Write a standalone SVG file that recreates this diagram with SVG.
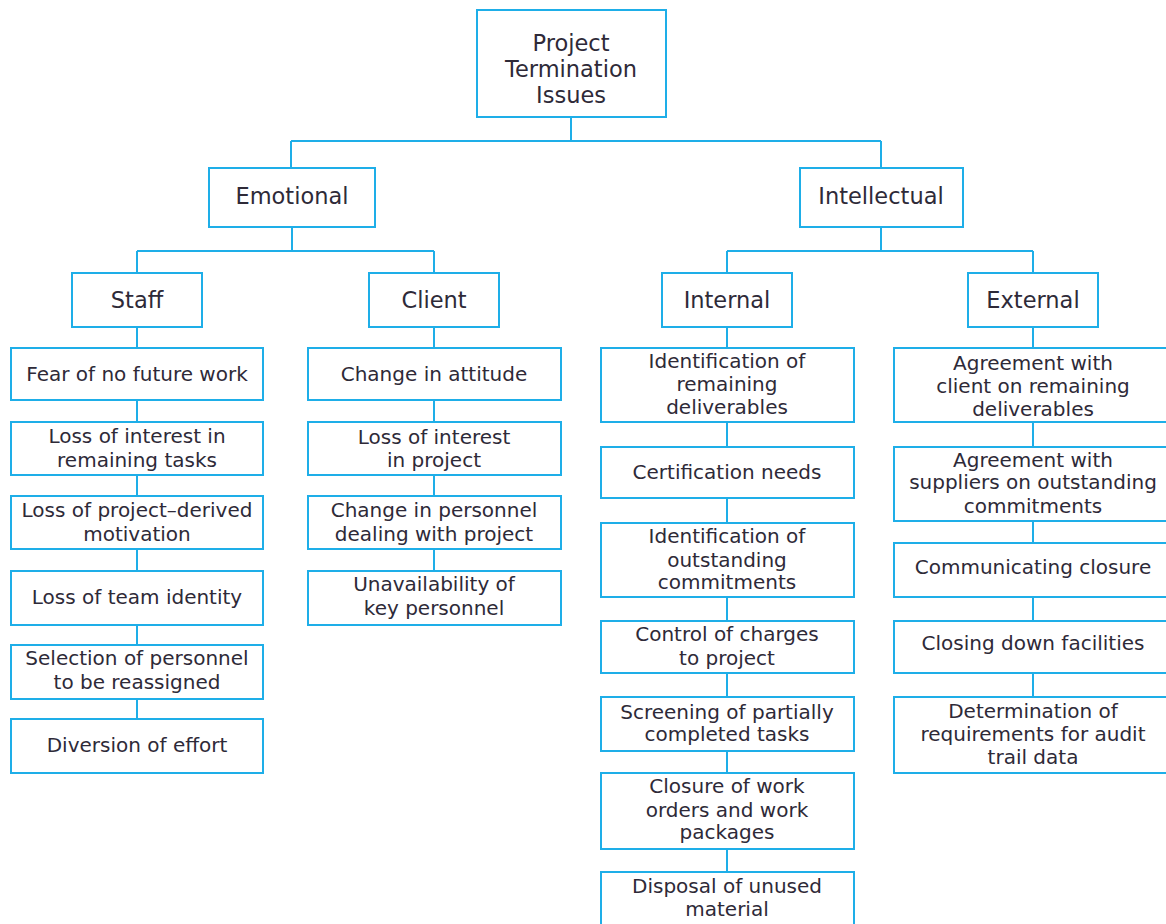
<svg xmlns="http://www.w3.org/2000/svg" width="1166" height="924" viewBox="0 0 1166 924">
<style>
.b{fill:#fff;stroke:#1eaee8;stroke-width:2}
.c{fill:none;stroke:#1eaee8;stroke-width:2}
text{font-family:"DejaVu Sans",sans-serif;fill:#2e2a38;text-anchor:middle}
.t{font-size:22.5px}
.l{font-size:20px}
</style>
<rect width="1166" height="924" fill="#fff"/>
<g id="connectors">
<path class="c" d="M571 117V141M291 141H881M291 141V168M881 141V168"/>
<path class="c" d="M292 227V251M137 251H434M137 251V273M434 251V273"/>
<path class="c" d="M881 227V251M727 251H1033M727 251V273M1033 251V273"/>
<path class="c" d="M137 327V719M434 327V571M727 327V872M1033 327V697"/>
</g>
<g id="root"><rect class="b" x="477" y="10" width="189" height="107"/>
<text class="t" x="571" y="51">Project</text><text class="t" x="571" y="77">Termination</text><text class="t" x="571" y="103">Issues</text></g>
<g id="emotional"><rect class="b" x="209" y="168" width="166" height="59"/><text class="t" x="292" y="204">Emotional</text></g>
<g id="intellectual"><rect class="b" x="800" y="168" width="163" height="59"/><text class="t" x="881" y="204">Intellectual</text></g>
<g id="staff"><rect class="b" x="72" y="273" width="130" height="54"/><text class="t" x="137" y="308">Staff</text></g>
<g id="client"><rect class="b" x="369" y="273" width="130" height="54"/><text class="t" x="434" y="308">Client</text></g>
<g id="internal"><rect class="b" x="662" y="273" width="130" height="54"/><text class="t" x="727" y="308">Internal</text></g>
<g id="external"><rect class="b" x="968" y="273" width="130" height="54"/><text class="t" x="1033" y="308">External</text></g>

<g id="s1"><rect class="b" x="11" y="348" width="252" height="52"/><text class="l" x="137" y="381">Fear of no future work</text></g>
<g id="s2"><rect class="b" x="11" y="422" width="252" height="53"/><text class="l" x="137" y="443">Loss of interest in</text><text class="l" x="137" y="467">remaining tasks</text></g>
<g id="s3"><rect class="b" x="11" y="496" width="252" height="53"/><text class="l" x="137" y="517">Loss of project–derived</text><text class="l" x="137" y="541">motivation</text></g>
<g id="s4"><rect class="b" x="11" y="571" width="252" height="54"/><text class="l" x="137" y="604">Loss of team identity</text></g>
<g id="s5"><rect class="b" x="11" y="645" width="252" height="54"/><text class="l" x="137" y="665">Selection of personnel</text><text class="l" x="137" y="689">to be reassigned</text></g>
<g id="s6"><rect class="b" x="11" y="719" width="252" height="54"/><text class="l" x="137" y="752">Diversion of effort</text></g>

<g id="c1"><rect class="b" x="308" y="348" width="253" height="52"/><text class="l" x="434" y="381">Change in attitude</text></g>
<g id="c2"><rect class="b" x="308" y="422" width="253" height="53"/><text class="l" x="434" y="444">Loss of interest</text><text class="l" x="434" y="467">in project</text></g>
<g id="c3"><rect class="b" x="308" y="496" width="253" height="53"/><text class="l" x="434" y="517">Change in personnel</text><text class="l" x="434" y="541">dealing with project</text></g>
<g id="c4"><rect class="b" x="308" y="571" width="253" height="54"/><text class="l" x="434" y="591">Unavailability of</text><text class="l" x="434" y="615">key personnel</text></g>

<g id="i1"><rect class="b" x="601" y="348" width="253" height="74"/><text class="l" x="727" y="368">Identification of</text><text class="l" x="727" y="391">remaining</text><text class="l" x="727" y="414">deliverables</text></g>
<g id="i2"><rect class="b" x="601" y="447" width="253" height="51"/><text class="l" x="727" y="479">Certification needs</text></g>
<g id="i3"><rect class="b" x="601" y="523" width="253" height="74"/><text class="l" x="727" y="543">Identification of</text><text class="l" x="727" y="567">outstanding</text><text class="l" x="727" y="589">commitments</text></g>
<g id="i4"><rect class="b" x="601" y="621" width="253" height="52"/><text class="l" x="727" y="641">Control of charges</text><text class="l" x="727" y="665">to project</text></g>
<g id="i5"><rect class="b" x="601" y="697" width="253" height="54"/><text class="l" x="727" y="719">Screening of partially</text><text class="l" x="727" y="741">completed tasks</text></g>
<g id="i6"><rect class="b" x="601" y="773" width="253" height="76"/><text class="l" x="727" y="793">Closure of work</text><text class="l" x="727" y="817">orders and work</text><text class="l" x="727" y="839">packages</text></g>
<g id="i7"><rect class="b" x="601" y="872" width="253" height="70"/><text class="l" x="727" y="893">Disposal of unused</text><text class="l" x="727" y="916">material</text></g>

<g id="e1"><rect class="b" x="894" y="348" width="278" height="74"/><text class="l" x="1033" y="370">Agreement with</text><text class="l" x="1033" y="393">client on remaining</text><text class="l" x="1033" y="416">deliverables</text></g>
<g id="e2"><rect class="b" x="894" y="447" width="278" height="74"/><text class="l" x="1033" y="467">Agreement with</text><text class="l" x="1033" y="489">suppliers on outstanding</text><text class="l" x="1033" y="513">commitments</text></g>
<g id="e3"><rect class="b" x="894" y="543" width="278" height="54"/><text class="l" x="1033" y="574">Communicating closure</text></g>
<g id="e4"><rect class="b" x="894" y="621" width="278" height="52"/><text class="l" x="1033" y="650">Closing down facilities</text></g>
<g id="e5"><rect class="b" x="894" y="697" width="278" height="76"/><text class="l" x="1033" y="718">Determination of</text><text class="l" x="1033" y="741">requirements for audit</text><text class="l" x="1033" y="764">trail data</text></g>
</svg>
